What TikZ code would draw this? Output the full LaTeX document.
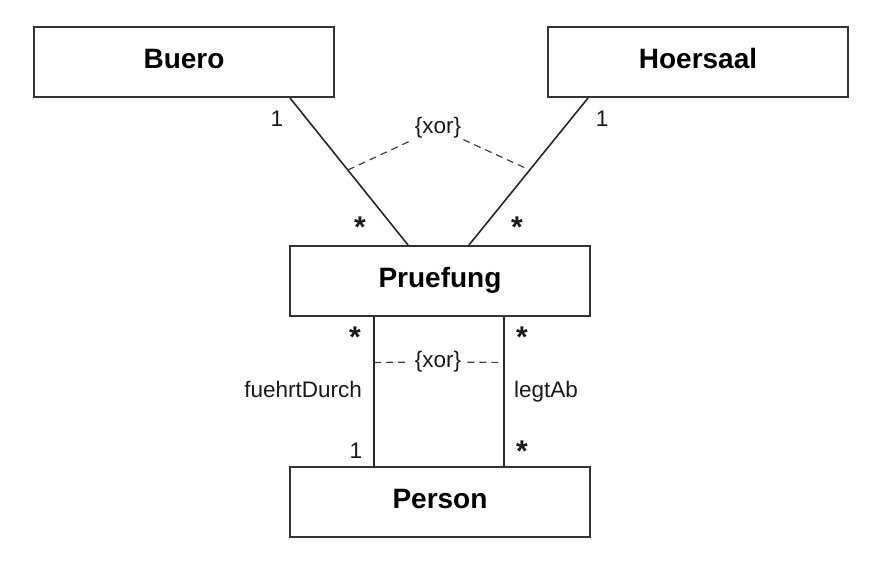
\documentclass[tikz,border=0pt]{standalone}
\usepackage{fontspec}
\setmainfont{Liberation Sans}
\begin{document}
\begin{tikzpicture}[x=1pt,y=-1pt]
    \tikzset{
      classbox/.style={draw=black!80,line width=2pt,minimum width=300pt,minimum height=70pt,
        inner sep=0pt,text height=20pt,text depth=7pt,font=\fontsize{28}{31}\selectfont\bfseries},
      assoc/.style={draw=black!85,line width=1.6pt},
      xorline/.style={draw=black!75,line width=1.2pt,dash pattern=on 7pt off 5pt},
      mult/.style={font=\fontsize{22.5}{25}\selectfont,inner sep=0pt,text=black!90},
      many/.style={font=\fontsize{30}{32}\selectfont\bfseries,inner sep=0pt,text=black!90}
    }
        \useasboundingbox (0,0) rectangle (872,562);

        %CLASSES
        \node[classbox] (buero) at (184,62) {Buero};
        \node[classbox] (hoersaal) at (698,62) {Hoersaal};
        \node[classbox] (pruefung) at (440,281) {Pruefung};
        \node[classbox] (person) at (440,502) {Person};

        %ASSOCIATIONS TOP
        \draw[assoc] ([xshift=106pt]buero.south) -- coordinate[pos=0.49] (xl) ([xshift=-32pt]pruefung.north);
        \draw[assoc] ([xshift=-110pt]hoersaal.south) -- coordinate[pos=0.49] (xr) ([xshift=29pt]pruefung.north);

        %ASSOCIATIONS BOTTOM
        \draw[assoc] ([xshift=-66pt]pruefung.south) -- coordinate[pos=0.305] (yl) ([xshift=-66pt]person.north);
        \draw[assoc] ([xshift=64pt]pruefung.south) -- coordinate[pos=0.305] (yr) ([xshift=64pt]person.north);

        %XOR
        \node[mult,inner xsep=2pt,inner ysep=4pt] (xortop) at (438,128) {\{xor\}};
        \node[mult,inner xsep=6pt,inner ysep=4pt] (xorbot) at (438,362) {\{xor\}};
        \draw[xorline] (xl) -- (xortop) -- (xr);
        \draw[xorline] (yl) -- (xorbot) -- (yr);

        %MULTIPLICITIES
        \node[mult,anchor=base] (m1) at (277,126) {1};
        \node[mult,anchor=base] (m2) at (602,126) {1};
        \node[many,anchor=base] (m3) at (360,237) {*};
        \node[many,anchor=base] (m4) at (517,237) {*};
        \node[many,anchor=base] (m5) at (355,347) {*};
        \node[many,anchor=base] (m6) at (522,347) {*};
        \node[mult,anchor=base] (m7) at (356,458) {1};
        \node[many,anchor=base] (m8) at (522,461) {*};

        %ROLES
        \node[mult,anchor=base east] (fd) at (362,397) {fuehrtDurch};
        \node[mult,anchor=base west] (la) at (514,397) {legtAb};
    \end{tikzpicture}
\end{document}
